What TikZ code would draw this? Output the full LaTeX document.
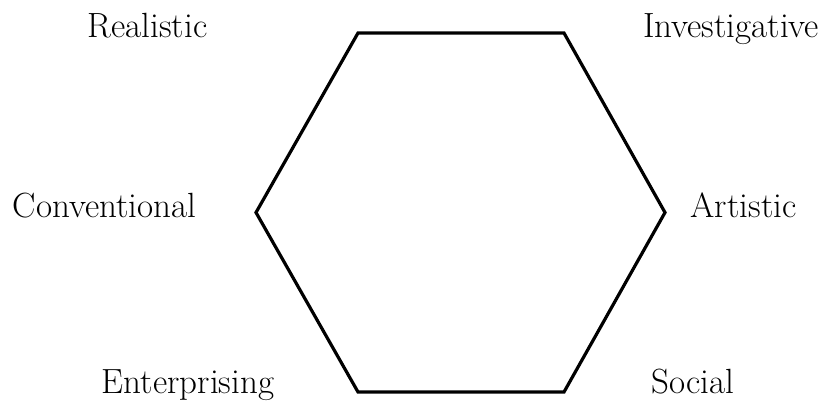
\documentclass[tikz,border=0pt]{standalone}
\begin{document}
\begin{tikzpicture}[x=1pt,y=-1pt,
  lbl/.style={anchor=base,inner sep=0pt,font=\fontsize{35}{40}\selectfont},
  hexline/.style={line width=3.2pt,line join=miter}]
\useasboundingbox (0,0) rectangle (829,400);
\coordinate (v1) at (358,33);
\coordinate (v2) at (564,33);
\coordinate (v3) at (665,212.5);
\coordinate (v4) at (564,392);
\coordinate (v5) at (358,392);
\coordinate (v6) at (256,212.5);
\draw[hexline] (v1) -- (v2) -- (v3) -- (v4) -- (v5) -- (v6) -- cycle;
\node[lbl] (r) at (147.5,37) {Realistic};
\node[lbl] (i) at (731,37) {Investigative};
\node[lbl] (c) at (104.5,217) {Conventional};
\node[lbl] (a) at (743.5,217) {Artistic};
\node[lbl] (e) at (188,393) {Enterprising};
\node[lbl] (s) at (693,393) {Social};
\end{tikzpicture}
\end{document}
